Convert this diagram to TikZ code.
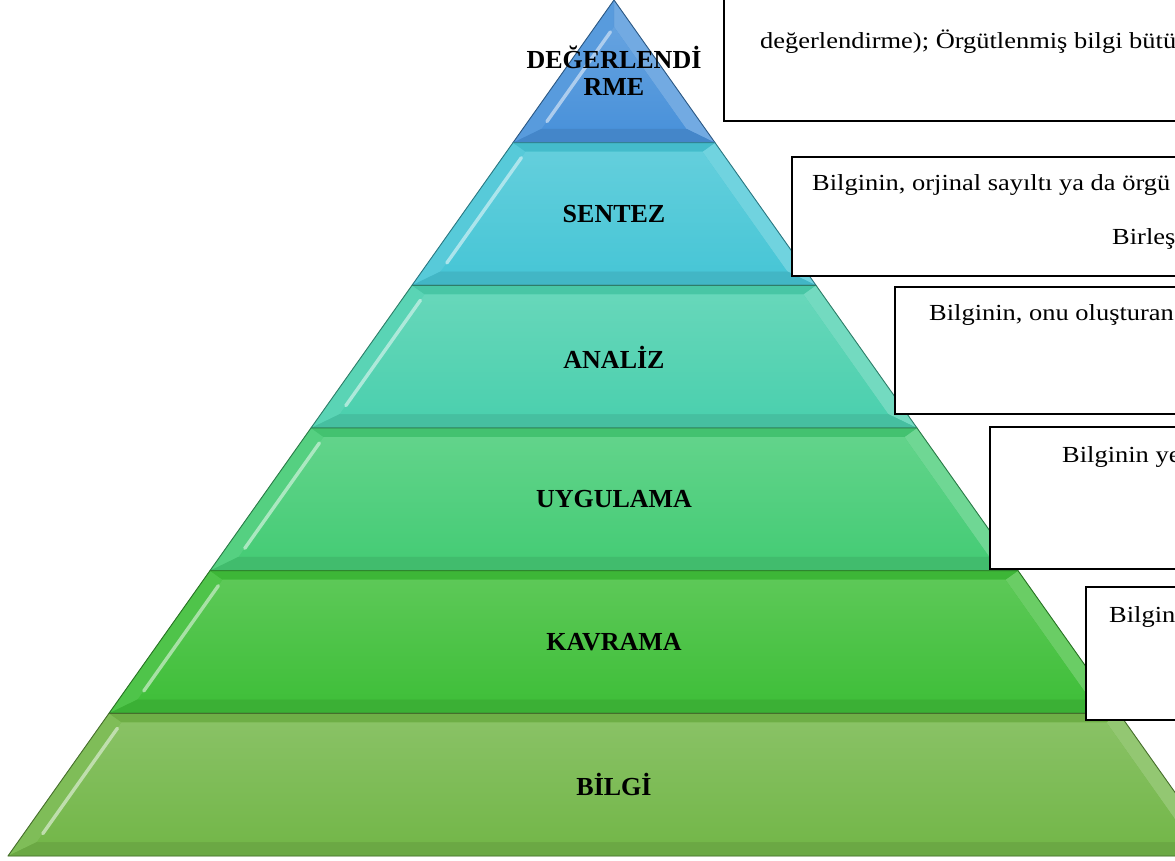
\documentclass[tikz,border=0pt]{standalone}
\usepackage{fontspec}
\setmainfont{Liberation Serif}
\definecolor{cA}{HTML}{4A92DA}
\definecolor{cB}{HTML}{48C6D6}
\definecolor{cC}{HTML}{4CD0AE}
\definecolor{cD}{HTML}{46CC76}
\definecolor{cE}{HTML}{40BF3A}
\definecolor{cF}{HTML}{74B74A}
\usetikzlibrary{calc}
\newcommand\pyrlayer[4]{% #1 top y, #2 bottom y, #3 colour, #4 inner top y
  \pgfmathsetmacro\yt{#1}\pgfmathsetmacro\yb{#2}\pgfmathsetmacro\yti{#4}\pgfmathsetmacro\ybi{#2-14}
  \pgfmathsetmacro\lt{614-0.708*\yt}\pgfmathsetmacro\rt{614+0.708*\yt}
  \pgfmathsetmacro\lb{614-0.708*\yb}\pgfmathsetmacro\rb{614+0.708*\yb}
  \pgfmathsetmacro\lti{614-0.708*\yti+19}\pgfmathsetmacro\rti{614+0.708*\yti-19}
  \pgfmathsetmacro\lbi{614-0.708*\ybi+19}\pgfmathsetmacro\rbi{614+0.708*\ybi-19}
  \fill[#3] (\lt,\yt) -- (\rt,\yt) -- (\rb,\yb) -- (\lb,\yb) -- cycle;
  \fill[#3!92!white] (\lt,\yt) -- (\lti,\yti) -- (\lbi,\ybi) -- (\lb,\yb) -- cycle;
  \fill[#3!78!white] (\rt,\yt) -- (\rti,\yti) -- (\rbi,\ybi) -- (\rb,\yb) -- cycle;
  \fill[#3!92!black] (\lb,\yb) -- (\lbi,\ybi) -- (\rbi,\ybi) -- (\rb,\yb) -- cycle;
  \fill[#3!95!black] (\lt,\yt) -- (\lti,\yti) -- (\rti,\yti) -- (\rt,\yt) -- cycle;
  \shade[top color=#3!85!white, bottom color=#3] (\lti,\yti) -- (\rti,\yti) -- (\rbi,\ybi) -- (\lbi,\ybi) -- cycle;
  \draw[#3!40!white, line width=3.4pt, line cap=round, opacity=0.9]
    ($(\lti,\yti)!0.05!(\lbi,\ybi)$) -- ($(\lti,\yti)!0.93!(\lbi,\ybi)$);
  \draw[#3!60!black, line width=0.9pt, line join=round] (\lt,\yt) -- (\rt,\yt) -- (\rb,\yb) -- (\lb,\yb) -- cycle;
}
\tikzset{
  lbl/.style={font=\bfseries\fontsize{26}{27}\selectfont, text=black, inner sep=0pt, align=center},
  desc/.style={font=\fontsize{23}{25}\selectfont, text=black, inner sep=0pt, anchor=base west},
  dbox/.style={draw=black, fill=white, line width=1.3pt}
}
\newcommand\wide[1]{\scalebox{1.15}[1]{#1}}
\begin{document}
\begin{tikzpicture}[x=1pt,y=-1pt]
\useasboundingbox (0,0) rectangle (1175,860);
\clip (0,0) rectangle (1175,860);
\fill[white] (0,0) rectangle (1175,860);
\pyrlayer{0}{142.7}{cA}{26.8}
\pyrlayer{142.7}{285.3}{cB}{151.7}
\pyrlayer{285.3}{428}{cC}{294.3}
\pyrlayer{428}{570.7}{cD}{437}
\pyrlayer{570.7}{713.3}{cE}{579.7}
\pyrlayer{713.3}{856}{cF}{722.3}
\node[lbl] (l1) at (614,71) {DEĞERLENDİ\\RME};
\node[lbl] (l2) at (614,214) {SENTEZ};
\node[lbl] (l3) at (614,357) {ANALİZ};
\node[lbl] (l4) at (614,499) {UYGULAMA};
\node[lbl] (l5) at (614,642) {KAVRAMA};
\node[lbl] (l6) at (614,784) {BİLGİ};
\draw[dbox] (724,-5) rectangle (1190,121);
\draw[dbox] (792,157) rectangle (1190,276);
\draw[dbox] (895,287) rectangle (1190,414);
\draw[dbox] (990,427) rectangle (1190,569);
\draw[dbox] (1086,587) rectangle (1190,720);
\node[desc] (t1) at (760,48) {\wide{değerlendirme); Örgütlenmiş bilgi bütü}};
\node[desc] (t2) at (812,190) {\wide{Bilginin, orjinal sayıltı ya da örgü}};
\node[desc] (t2b) at (1112,244) {\wide{Birleş}};
\node[desc] (t3) at (929,320) {\wide{Bilginin, onu oluşturan}};
\node[desc] (t4) at (1062,462) {\wide{Bilginin ye}};
\node[desc] (t5) at (1109,622) {\wide{Bilgin}};
\end{tikzpicture}
\end{document}
